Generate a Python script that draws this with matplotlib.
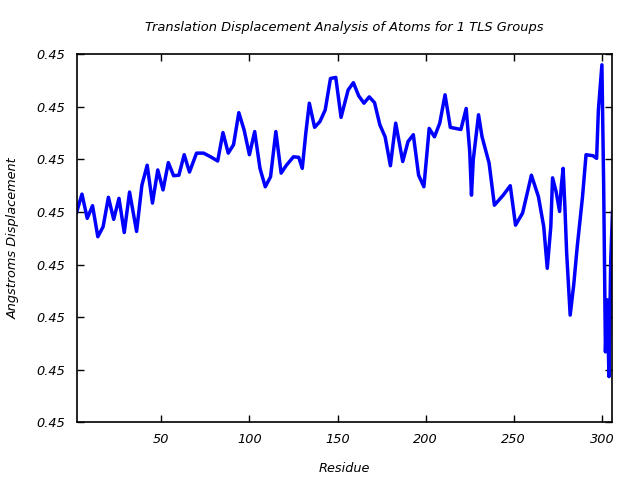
import numpy as np
import matplotlib
matplotlib.use("Agg")
import matplotlib.pyplot as plt
from matplotlib.ticker import FormatStrFormatter, MultipleLocator

# residue numbers and translation displacement
residue = [2, 5, 8, 11, 14, 17, 20, 23, 26, 29, 32, 36, 39, 42, 45, 48, 51, 54, 57, 60,
           63, 66, 70, 74, 78, 82, 85, 88, 91, 94, 97, 100, 103, 106, 109, 112, 115, 118,
           121, 125, 128, 130, 132, 134, 137, 140, 143, 146, 149, 152, 156, 159, 162, 165,
           168, 171, 174, 177, 180, 183, 187, 190, 193, 196, 199, 202, 205, 208, 211, 214,
           220, 223, 225, 226, 227, 230, 232, 236, 239, 244, 248, 251, 255, 260, 264, 267,
           269, 271, 272, 274, 276, 277, 278, 279, 280, 282, 284, 286, 289, 291, 295, 297,
           298, 300, 301, 302, 303, 304, 305, 306]
displacement = [0.450400, 0.450434, 0.450388, 0.450412, 0.450353, 0.450372, 0.450428,
                0.450386, 0.450426, 0.450361, 0.450438, 0.450363, 0.450451, 0.450489,
                0.450417, 0.450480, 0.450442, 0.450494, 0.450469, 0.450470, 0.450509,
                0.450476, 0.450512, 0.450512, 0.450505, 0.450497, 0.450551, 0.450512,
                0.450528, 0.450589, 0.450556, 0.450509, 0.450553, 0.450483, 0.450448,
                0.450467, 0.450553, 0.450474, 0.450489, 0.450505, 0.450504, 0.450483,
                0.450550, 0.450607, 0.450561, 0.450572, 0.450594, 0.450654, 0.450656,
                0.450580, 0.450632, 0.450646, 0.450621, 0.450607, 0.450619, 0.450608,
                0.450566, 0.450543, 0.450488, 0.450569, 0.450496, 0.450534, 0.450547,
                0.450470, 0.450448, 0.450559, 0.450543, 0.450569, 0.450623, 0.450561,
                0.450557, 0.450597, 0.450515, 0.450432, 0.450499, 0.450585, 0.450543,
                0.450493, 0.450413, 0.450432, 0.450450, 0.450375, 0.450398, 0.450470,
                0.450429, 0.450372, 0.450293, 0.450372, 0.450465, 0.450439, 0.450401,
                0.450451, 0.450483, 0.450410, 0.450322, 0.450204, 0.450261, 0.450334,
                0.450429, 0.450509, 0.450507, 0.450502, 0.450594, 0.450680, 0.450450,
                0.450134, 0.450233, 0.450087, 0.450306, 0.450400]

fig = plt.figure(figsize=(6.4, 4.8), dpi=100)
ax = fig.add_axes([0.1198, 0.1202, 0.8372, 0.7667])

ax.plot(residue, displacement, color="#0000ff", linewidth=2.5)

ax.set_xlim(2, 306)
ax.set_ylim(0.4500, 0.4507)
ax.xaxis.set_major_locator(MultipleLocator(50))
ax.yaxis.set_major_locator(MultipleLocator(0.0001))
ax.yaxis.set_major_formatter(FormatStrFormatter("%.2f"))
ax.tick_params(direction="in", length=5, width=1, top=True, right=True,
               labelsize=9.3, pad=8)
for lab in ax.get_xticklabels() + ax.get_yticklabels():
    lab.set_fontstyle("italic")
for s in ax.spines.values():
    s.set_linewidth(1.2)

ax.set_title("Translation Displacement Analysis of Atoms for 1 TLS Groups",
             fontsize=9.4, fontstyle="italic", pad=17)
ax.set_xlabel("Residue", fontsize=9.3, fontstyle="italic", labelpad=11)
ax.set_ylabel("Angstroms Displacement", fontsize=9.3, fontstyle="italic", labelpad=12)

fig.savefig("out.png", dpi=100)
